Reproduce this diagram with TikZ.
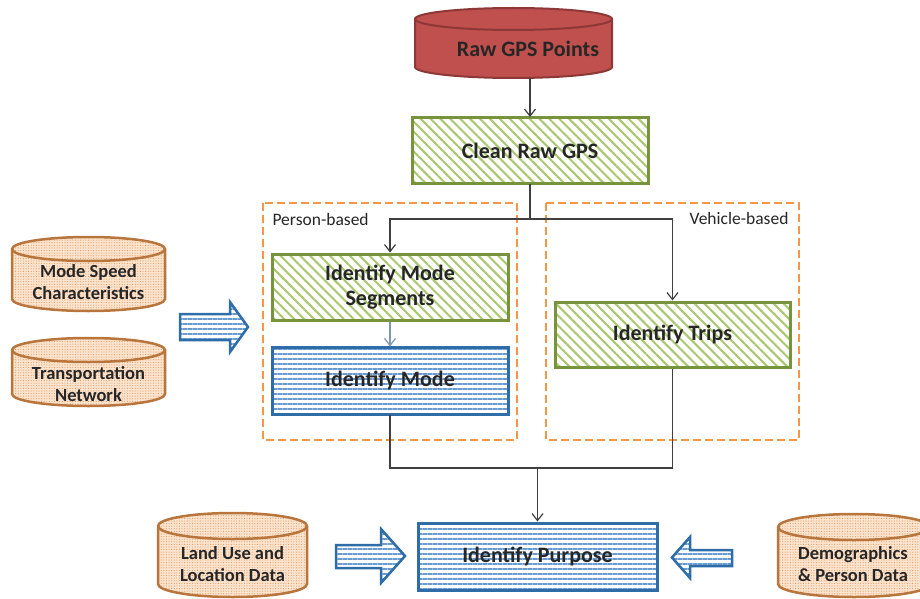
\documentclass[tikz,border=0pt]{standalone}
\usepackage{fontspec}
\setmainfont{Carlito}
\usetikzlibrary{arrows.meta,patterns.meta}
\definecolor{txt}{HTML}{262626}
\definecolor{redfill}{HTML}{C0504D}
\definecolor{redline}{HTML}{8C3836}
\definecolor{gline}{HTML}{77933C}
\definecolor{ghatch}{HTML}{A9C76E}
\definecolor{bline}{HTML}{2E6DA8}
\definecolor{bhatch}{HTML}{6A9BD0}
\definecolor{dashor}{HTML}{F79646}
\definecolor{cylfill}{HTML}{FCE3CE}
\definecolor{cyldot}{HTML}{E39A5E}
\definecolor{cylline}{HTML}{B8753C}
\definecolor{conn}{HTML}{404040}
\definecolor{connlight}{HTML}{7F97B2}
\tikzset{
  x=1pt, y=1pt,
  lbl/.style={text=txt, font=\fontsize{22}{25}\selectfont\bfseries, align=center},
  cyllbl/.style={text=txt, font=\fontsize{18.5}{22}\selectfont\bfseries, align=center},
  greenbox/.style={draw=gline, line width=3pt, pattern={Lines[angle=-45,distance=7pt,line width=2pt]}, pattern color=ghatch, lbl},
  bluebox/.style={draw=bline, line width=3pt, pattern={Lines[angle=0,distance=5pt,line width=1.2pt]}, pattern color=bhatch, lbl},
  groupbox/.style={draw=dashor, line width=2.8pt, dash pattern=on 8pt off 4pt},
  grouplbl/.style={text=txt, font=\fontsize{17.5}{20}\selectfont},
  conarrow/.style={draw=conn, line width=1.2pt, -{Straight Barb[length=7pt,width=11pt]}},
  conline/.style={draw=conn, line width=1.2pt},
  blockarrow/.style={draw=bline, line width=2.5pt, line join=miter, pattern={Lines[angle=0,distance=5pt,line width=1.4pt]}, pattern color=bhatch},
  cylbody/.style={fill=cylfill, postaction={pattern={Dots[radius=0.55pt,distance=2.6pt]}, pattern color=cyldot}},
  cylline/.style={draw=cylline, line width=2.5pt},
}
% cylinder: #1 left x, #2 right x, #3 top y, #4 bottom y, #5 ry, #6 body style, #7 line style
\newcommand{\mycyl}[7]{%
  \pgfmathsetmacro{\cx}{(#1+#2)/2}%
  \pgfmathsetmacro{\rx}{(#2-#1)/2}%
  \path[#6] (#1,-#3-#5) -- (#1,-#4+#5) arc[start angle=180,end angle=360,x radius=\rx,y radius=#5]
     -- (#2,-#3-#5) arc[start angle=0,end angle=180,x radius=\rx,y radius=#5] -- cycle;
  \draw[#7] (#1,-#3-#5) -- (#1,-#4+#5) arc[start angle=180,end angle=360,x radius=\rx,y radius=#5]
     -- (#2,-#3-#5) arc[start angle=0,end angle=180,x radius=\rx,y radius=#5] -- cycle;
  \draw[#7] (#1,-#3-#5) arc[start angle=180,end angle=360,x radius=\rx,y radius=#5];
}
\begin{document}
\begin{tikzpicture}
\clip (0,0) rectangle (920,-599);
\fill[white] (0,0) rectangle (920,-599);

% group boxes
\draw[groupbox] (263,-203) rectangle (517,-440);
\draw[groupbox] (546,-203) rectangle (799,-440);
\node[grouplbl, anchor=west] (plbl) at (269,-219) {Person-based};
\node[grouplbl, anchor=east] (vlbl) at (792,-218) {Vehicle-based};

% Raw GPS cylinder
\mycyl{415}{612}{8}{78}{11}{fill=redfill}{draw=redline, line width=2pt}
\node[lbl] (raw) at (528,-49) {Raw GPS Points};
\coordinate (rawbot) at (530,-78);

% process boxes
\node[greenbox, minimum width=236pt, minimum height=65pt] (clean) at (530,-150.5) {Clean Raw GPS};
\node[greenbox, minimum width=236pt, minimum height=66pt] (modeseg) at (390,-287) {Identify Mode\\Segments};
\node[bluebox, minimum width=236pt, minimum height=67pt] (mode) at (390,-380.5) {Identify Mode};
\node[greenbox, minimum width=235pt, minimum height=65pt] (trips) at (672.5,-334.5) {Identify Trips};
\node[bluebox, minimum width=239pt, minimum height=67pt] (purpose) at (537.5,-556.5) {Identify Purpose};

% connectors
\coordinate (br) at (530,-219);
\coordinate (mg) at (537.5,-468);
\draw[conarrow] (rawbot) -- (clean.north);
\draw[conline] (clean.south) -- (br);
\draw[conarrow] (br) -| (modeseg.north);
\draw[conarrow] (br) -| (trips.north);
\draw[conarrow, draw=connlight] (modeseg.south) -- (mode.north);
\draw[conline] (mode.south) |- (mg);
\draw[conline] (trips.south) |- (mg);
\draw[conarrow] (mg) -- (purpose.north);

% data cylinders
\mycyl{12}{165}{237}{311}{12}{cylbody}{cylline}
\node[cyllbl] (speed) at (88.5,-282) {Mode Speed\\Characteristics};
\mycyl{12}{165}{338}{406}{12}{cylbody}{cylline}
\node[cyllbl] (network) at (88.5,-384) {Transportation\\Network};
\mycyl{158}{307}{513}{597}{13}{cylbody}{cylline}
\node[cyllbl] (landuse) at (232.5,-564) {Land Use and\\Location Data};
\mycyl{778}{930}{514}{597}{13}{cylbody}{cylline}
\node[cyllbl] (demo) at (853,-564) {Demographics\\\& Person Data};

% block arrows
\draw[blockarrow] (180,-314) -- (230,-314) -- (230,-302) -- (248,-327) -- (230,-352) -- (230,-340) -- (180,-340) -- cycle;
\draw[blockarrow] (336,-545) -- (381,-545) -- (381,-529) -- (405,-556) -- (381,-583) -- (381,-568) -- (336,-568) -- cycle;
\draw[blockarrow] (732,-550) -- (690,-550) -- (690,-537) -- (672,-557.5) -- (690,-578) -- (690,-566) -- (732,-566) -- cycle;
\end{tikzpicture}
\end{document}
